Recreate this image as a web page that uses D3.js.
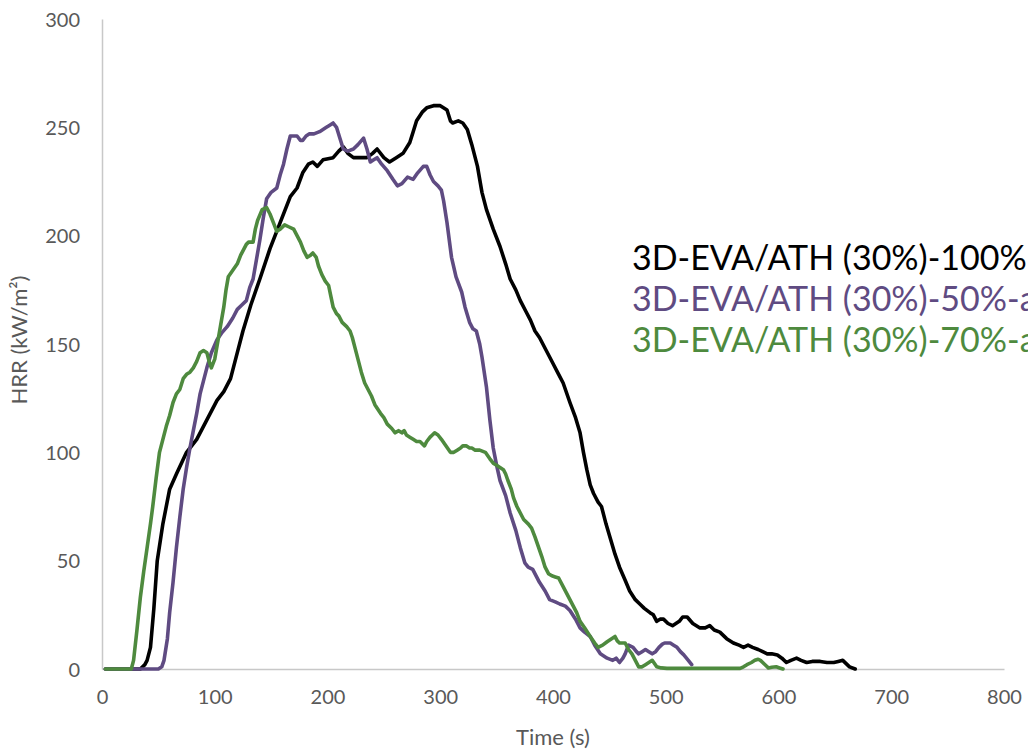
<!DOCTYPE html>
<html>
<head>
<meta charset="utf-8">
<script src="https://cdn.jsdelivr.net/npm/d3@7"></script>
<style>
  html, body { margin: 0; padding: 0; background: #fff; overflow: hidden; }
  svg { display: block; font-family: "Lato", "Open Sans", sans-serif; }
</style>
</head>
<body>
<svg id="chart" width="1028" height="751"></svg>
<script>
// Heat release rate curves, [time (s), HRR (kW/m²)]
const hrr100 = [
  [3,0],[34,0],[38,2],[40,4],[43,10],[46,28],[49,50],[54,67],[60,83],[66,90],[75,100],[84,106],
  [93,115],[102,124],[108,128],[114,134],[120,146],[125,156],[132,168],[140,180],[149,194],[158,206],
  [167,218],[173,222],[178,229],[183,233],[187,234],[191,232],[196,235],[205,236],[210,239],[214,241],
  [218,238],[223,236],[230,236],[235,236],[240,238],[244,240],[250,236],[255,234],[261,236],[267,238],
  [273,243],[276,248],[279,253],[284,257],[288,259],[294,260],[300,260],[306,258],[309,253],[311,252],
  [316,253],[320,252],[324,249],[328,242],[333,232],[337,220],[341,212],[347,203],[353,195],[358,187],
  [362,180],[367,175],[371,170],[376,165],[380,161],[384,156],[388,153],[394,147],[400,141],[405,136],
  [409,132],[415,123],[420,116],[424,109],[427,100],[430,92],[433,85],[436,81],[440,77],[443,75],
  [447,67],[451,60],[455,53],[459,47],[464,41],[468,36],[473,32],[477,30],[481,28],[486,26],[489,25],
  [492,22],[495,23],[498,23],[502,21],[506,20],[512,22],[515,24],[519,24],[524,21],[530,19],[535,19],
  [539,20],[543,18],[548,17],[554,14],[560,12],[565,11],[569,10],[573,11],[577,10],[582,9],[586,8],
  [590,7],[594,7],[599,6.5],[603,5],[607,3],[611,4],[616,5],[620,4],[625,3],[630,3.5],[637,3.5],
  [643,3],[649,3],[653,3.5],[657,4],[660,2.5],[663,1],[668,0]
];

const hrr50 = [
  [3,0],[50,0],[53,1],[55,4],[58,14],[60,26],[63,40],[66,56],[69,70],[72,83],[75,93],[78,102],
  [81,110],[84,118],[87,127],[90,133],[93,139],[97,146],[102,152],[106,155],[111,158],[116,162],
  [120,166],[124,168],[128,170],[131,176],[134,180],[137,189],[140,198],[143,208],[146,217],[150,220],
  [155,222],[158,228],[161,233],[164,240],[167,246],[170,246],[173,246],[176,244],[178,244],[181,246],
  [184,247],[188,247],[193,248],[196,249],[199,250],[202,251],[205,252],[208,250],[211,245],[214,240],
  [218,239],[223,240],[227,242],[232,245],[235,240],[238,234],[241,235],[244,236],[248,233],[253,230],
  [258,226],[262,223],[266,224],[271,227],[276,226],[280,229],[285,232],[288,232],[291,228],[294,225],
  [298,223],[301,221],[303,216],[306,206],[310,190],[314,181],[319,174],[322,167],[326,160],[329,157],
  [332,156],[335,150],[337,144],[341,130],[344,115],[347,102],[350,94],[353,87],[358,80],[362,72],
  [367,64],[371,56],[375,49],[378,47],[382,46],[385,43],[388,40],[393,36],[397,32],[402,31],[406,30],
  [411,29],[415,27],[420,23],[424,19],[428,17],[433,15],[437,11],[442,7],[445,6],[448,5],[453,4],
  [456,5],[459,3],[462,5],[464,7],[467,11],[471,10],[474,8],[476,7],[479,8],[482,9],[485,8],[488,7],
  [491,8],[494,10],[497,11.5],[499,12],[504,12],[507,11],[510,10],[513,8],[516,6.5],[520,4],[523,2]
];

const hrr70 = [
  [3,0],[26,0],[28,4],[31,18],[34,33],[37,45],[40,56],[43,67],[45,75],[48,88],[51,100],[54,106],
  [57,112],[60,117],[63,123],[66,127],[69,129],[72,134],[75,136],[78,137],[81,139],[84,142],[87,146],
  [90,147],[93,146],[95,142],[97,139],[100,143],[102,149],[105,158],[108,167],[110,175],[112,181],
  [116,184],[120,187],[123,191],[125,193],[128,196],[130,197],[134,197],[136,203],[138,207],[142,212],
  [146,213],[149,210],[152,206],[155,202],[158,203],[162,205],[166,204],[170,203],[173,200],[176,197],
  [179,193],[182,190],[185,191],[187,192],[190,190],[192,186],[195,182],[198,179],[201,177],[203,172],
  [205,167],[208,164],[210,163],[213,160],[217,158],[220,156],[222,153],[224,149],[227,143],[230,137],
  [233,132],[236,129],[239,126],[242,122],[247,118],[250,116],[253,113],[257,111],[260,109],[263,110],
  [266,109],[268,110],[270,108],[273,107],[276,106],[279,105],[282,105],[286,103],[288,105],[291,107],
  [293,108],[295,109],[298,108],[301,106],[305,103],[309,100],[312,100],[315,101],[318,102],[320,103],
  [323,103],[326,102],[328,102],[331,101],[335,101],[340,100],[344,97],[347,95],[350,94],[353,93],
  [356,92],[358,90],[360,87],[363,83],[365,79],[368,75],[371,72],[374,69],[378,67],[381,65],[384,61],
  [386,58],[390,52],[393,47],[396,44],[399,43],[402,42.5],[405,42],[409,38],[412,35],[415,32],[418,29],
  [421,26],[424,22],[428,19],[433,15],[437,12],[440,10],[444,11],[448,12.6],[452,14],[455,15],[457,13],
  [459,12],[462,12],[464,12],[467,9],[470,7],[473,4],[476,1],[479,1],[482,2],[485,3],[488,4],[490,2.5],
  [492,1],[496,0.5],[501,0.3],[566,0.3],[569,1],[572,2],[576,3],[579,4],[582,4.5],[584,4],[586,3],
  [589,1.5],[591,0.5],[594,0.8],[598,1],[601,0.5],[604,0]
];

const seriesNames = [
  "3D-EVA/ATH (30%)-100%",
  "3D-EVA/ATH (30%)-50%-air",
  "3D-EVA/ATH (30%)-70%-air"
];
const seriesColors = ["#000000", "#5f4b82", "#4e8a3e"];
const xTicks = [0, 100, 200, 300, 400, 500, 600, 700, 800];
const yTicks = [0, 50, 100, 150, 200, 250, 300];

const svg = d3.select("#chart");
const plot = { left: 102, right: 1004, top: 19, bottom: 669 };

const x = d3.scaleLinear().domain([0, 800]).range([plot.left, plot.right]);
const y = d3.scaleLinear().domain([0, 300]).range([plot.bottom, plot.top]);

// axes (lines only, no tick marks)
const xAxis = svg.append("g")
  .attr("transform", `translate(0,${plot.bottom})`)
  .call(d3.axisBottom(x).tickValues(xTicks).tickSize(0).tickPadding(21));
const yAxis = svg.append("g")
  .attr("transform", `translate(${plot.left},0)`)
  .call(d3.axisLeft(y).tickValues(yTicks).tickSize(0).tickPadding(22));

[xAxis, yAxis].forEach(g => {
  g.select(".domain").attr("stroke", "#c8c8c8").attr("stroke-width", 1.5);
  g.selectAll("text")
    .attr("fill", "#595959")
    .style("font-family", "Lato, 'Open Sans', sans-serif")
    .style("font-size", "20px");
});
yAxis.selectAll("text").attr("dy", "0.35em");

// axis titles
svg.append("text")
  .attr("x", 553).attr("y", 745)
  .attr("text-anchor", "middle")
  .attr("fill", "#595959")
  .style("font-size", "22px")
  .text("Time (s)");

svg.append("text")
  .attr("transform", "translate(27,340) rotate(-90)")
  .attr("text-anchor", "middle")
  .attr("fill", "#595959")
  .style("font-size", "22px")
  .text("HRR (kW/m²)");

// curves
const line = d3.line().x(d => x(d[0])).y(d => y(d[1]));
const allSeries = [hrr100, hrr50, hrr70];
const drawOrder = [0, 1, 2];
drawOrder.forEach(i => {
  svg.append("path")
    .datum(allSeries[i])
    .attr("fill", "none")
    .attr("stroke", seriesColors[i])
    .attr("stroke-width", 3.6)
    .attr("stroke-linejoin", "round")
    .attr("stroke-linecap", "round")
    .attr("d", line);
});

// legend (text only)
const legend = svg.append("g").attr("transform", "translate(632,270)");
seriesNames.forEach((name, i) => {
  legend.append("text")
    .attr("x", 0).attr("y", i * 41)
    .attr("fill", seriesColors[i])
    .style("font-size", "34px")
    .text(name);
});
</script>
</body>
</html>
